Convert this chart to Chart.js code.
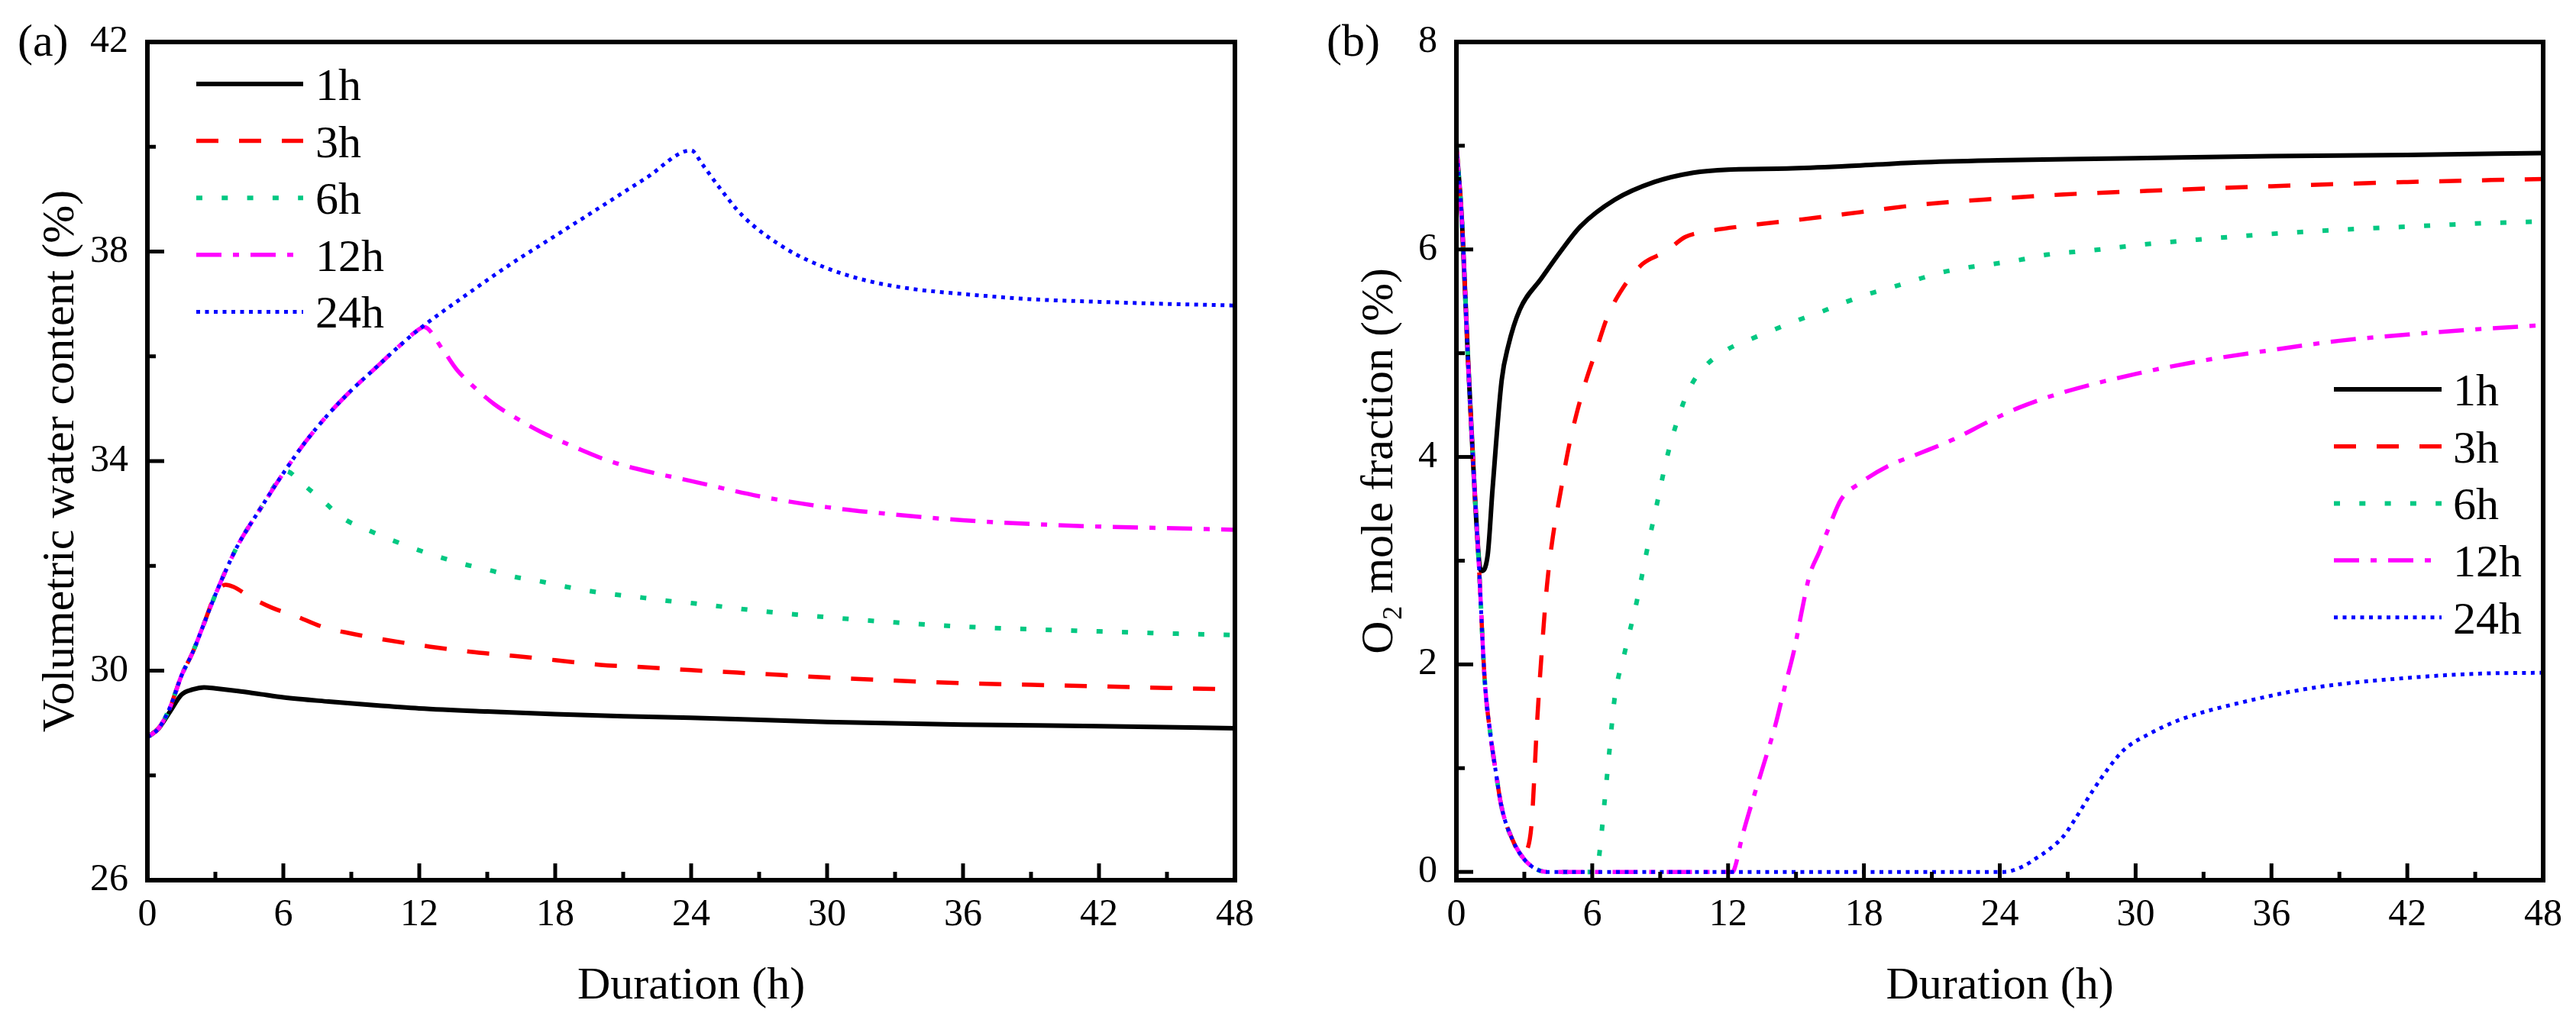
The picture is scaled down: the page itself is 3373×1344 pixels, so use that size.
<!DOCTYPE html>
<html><head><meta charset="utf-8">
<script src="https://cdn.jsdelivr.net/npm/chart.js@4.4.1/dist/chart.umd.min.js"></script>
<style>
html,body{margin:0;padding:0;background:#fff;}
#wrap{position:relative;width:3373px;height:1344px;background:#fff;}
canvas{position:absolute;top:0;}
</style>
</head><body>
<div id="wrap">
<canvas id="ca" width="1686" height="1344" style="left:0px"></canvas>
<canvas id="cb" width="1687" height="1344" style="left:1686px"></canvas>
</div>
<script>
// ---------- DATA ----------
const seriesNames = ['1h','3h','6h','12h','24h'];
const xTicksLabels = [0,6,12,18,24,30,36,42,48];
const aTicksLabels = [26,30,34,38,42];
const bTicksLabels = [0,2,4,6,8];

// Panel (a): volumetric water content (%)
const a1h_t  = [0,0.5,1,1.5,2,2.5,3,4,5,6,8,10,12,15,18,21,24,30,36,42,48];
const a1h_v  = [28.73,28.9,29.22,29.54,29.64,29.68,29.66,29.61,29.55,29.49,29.41,29.34,29.28,29.22,29.17,29.13,29.1,29.02,28.97,28.94,28.9];
const a3h_t  = [0,0.5,1,1.5,2,2.5,3,3.45,3.8,4.6,5.5,6.56,7.77,8.97,10.48,12.44,14.25,16.2,18,20,21.8,24,27,30,33,36,39,42,45,48];
const a3h_v  = [28.73,28.9,29.3,29.9,30.35,30.9,31.45,31.64,31.6,31.39,31.2,31.04,30.83,30.71,30.59,30.46,30.36,30.28,30.2,30.11,30.07,30.01,29.94,29.87,29.81,29.76,29.73,29.7,29.67,29.64];
const a6h_t  = [0,0.5,1,1.5,2,2.5,3,3.5,4,5,6,6.1,6.86,7.77,8.67,9.8,10.8,11.84,12.97,14,15.16,16.2,17.4,18.5,19.5,20.7,21.9,23,24,27,30,33,36,39,42,45,48];
const a6h_v  = [28.73,28.9,29.3,29.9,30.35,30.9,31.45,31.95,32.4,33.1,33.77,33.81,33.56,33.23,32.9,32.67,32.49,32.32,32.16,32.03,31.91,31.79,31.7,31.6,31.52,31.45,31.39,31.33,31.29,31.14,31.02,30.92,30.84,30.79,30.75,30.71,30.68];
const a12h_t = [0,0.5,1,1.5,2,2.5,3,3.5,4,5,6,7,8,9,10,11,12,12.2,13.05,13.65,14.4,15.3,16.2,17.4,18.9,20.4,22.1,24,27,30,33,36,39,42,45,48];
const a12h_v = [28.73,28.9,29.3,29.9,30.35,30.9,31.45,31.95,32.4,33.1,33.77,34.38,34.9,35.35,35.75,36.15,36.52,36.56,36.12,35.75,35.42,35.09,34.84,34.55,34.26,34.0,33.8,33.62,33.33,33.12,32.98,32.87,32.8,32.75,32.72,32.69];
const a24h_t = [0,0.5,1,1.5,2,2.5,3,3.5,4,5,6,7,8,9,10,11,12,14,16,18,20,22,24,24.5,25.25,26.3,28.2,30,31.8,33.7,36,39,42,45,48];
const a24h_v = [28.73,28.9,29.3,29.9,30.35,30.9,31.45,31.95,32.4,33.1,33.77,34.38,34.9,35.35,35.75,36.15,36.52,37.15,37.75,38.3,38.85,39.4,39.93,39.66,39.22,38.67,38.05,37.68,37.44,37.29,37.19,37.09,37.04,37.0,36.97];

// Panel (b): O2 mole fraction (%)
const b1h_t  = [0,0.25,0.5,0.75,1.0,1.1,1.38,1.6,2.0,2.29,2.8,3.75,4.6,5.47,7.0,8.74,10.46,12,14.6,17,20.4,23.9,27,30,36,42,48];
const b1h_v  = [7.0,6.25,5.0,3.9,3.0,2.9,3.05,3.7,4.74,5.07,5.42,5.72,5.98,6.22,6.48,6.65,6.74,6.77,6.78,6.8,6.84,6.86,6.87,6.88,6.9,6.91,6.93];
const b3h_t  = [0,0.25,0.5,0.75,1.0,1.25,1.5,1.75,2,2.5,2.89,3.1,3.32,3.45,3.54,3.75,4.0,4.26,4.6,4.95,5.3,5.73,6.16,6.67,7.36,8.22,9.25,10.1,10.97,12.86,15.27,17.85,20.4,23.9,26.8,30,36,42,48];
const b3h_v  = [7.0,6.25,5.0,3.9,2.93,1.85,1.33,0.95,0.62,0.3,0.16,0.2,0.46,0.95,1.35,2.06,2.76,3.23,3.66,4.08,4.41,4.74,5.02,5.35,5.63,5.86,5.98,6.12,6.17,6.23,6.29,6.36,6.43,6.49,6.53,6.56,6.61,6.65,6.68];
const b6h_t  = [0,0.25,0.5,0.75,1.0,1.25,1.5,1.75,2,2.5,3,3.5,4,6.2,6.33,6.55,6.76,6.98,7.45,7.96,8.39,8.87,9.34,9.99,10.42,11.06,12,13.04,14.07,15.1,16.13,17.16,18.19,19.31,20.34,21.46,22.67,23.7,24.9,26.1,28,30,33,36,39,42,45,48];
const b6h_v  = [7.0,6.25,5.0,3.9,2.93,1.85,1.33,0.95,0.62,0.3,0.12,0.03,0,0,0.2,0.69,1.17,1.66,2.13,2.6,3.07,3.56,4.03,4.5,4.71,4.89,5.04,5.14,5.23,5.32,5.4,5.49,5.57,5.64,5.71,5.78,5.83,5.86,5.9,5.95,5.99,6.04,6.1,6.15,6.19,6.22,6.25,6.27];
const b12h_t = [0,0.25,0.5,0.75,1.0,1.25,1.5,1.75,2,2.5,3,3.5,4,12.2,12.35,12.6,13.03,13.55,14.07,14.5,14.93,15.27,15.6,16.04,16.47,16.99,17.85,19.05,20.4,21.96,23.5,24.9,26.76,30,33,36,39,42,45,48];
const b12h_v = [7.0,6.25,5.0,3.9,2.93,1.85,1.33,0.95,0.62,0.3,0.12,0.03,0,0,0.08,0.32,0.65,1.02,1.4,1.78,2.15,2.53,2.86,3.09,3.33,3.59,3.75,3.91,4.03,4.17,4.34,4.48,4.62,4.8,4.93,5.03,5.12,5.18,5.23,5.27];
const b24h_t = [0,0.25,0.5,0.75,1.0,1.25,1.5,1.75,2,2.5,3,3.5,4,24.2,25,25.6,26.2,26.8,27.3,28.1,28.8,29.5,30.6,32,35,38,42,45,48];
const b24h_v = [7.0,6.25,5.0,3.9,2.93,1.85,1.33,0.95,0.62,0.3,0.12,0.03,0,0,0.05,0.13,0.22,0.34,0.5,0.78,1.0,1.18,1.33,1.47,1.65,1.78,1.87,1.91,1.92];

// ---------- STYLES ----------
const FONT = "'Liberation Serif','Times New Roman',serif";
const styles = [
  {color:'#000000', dash:[],            width:6},
  {color:'#FF0000', dash:[29,27],       width:5.5},
  {color:'#00C882', dash:[8,25.3],      width:6},
  {color:'#FF00FF', dash:[33,15,8,15],  width:5.5},
  {color:'#0000FF', dash:[5,6.5],       width:5}
];

function pts(t, v){ return t.map((x,i)=>({x:x, y:v[i]})); }
function makeDatasets(series){
  return series.map((s,i)=>({
    label: seriesNames[i],
    data: pts(s[0], s[1]),
    borderColor: styles[i].color,
    backgroundColor: styles[i].color,
    borderDash: styles[i].dash,
    borderWidth: styles[i].width,
    pointRadius: 0,
    fill: false,
    cubicInterpolationMode: 'monotone',
    borderCapStyle: 'butt',
    borderJoinStyle: 'round',
    order: series.length - 1 - i
  }));
}

// frame + inward ticks
const framePlugin = {
  id: 'frame',
  afterDatasetsDraw(chart, args, o){
    const {ctx, chartArea:ca, scales} = chart;
    ctx.save();
    ctx.setLineDash([]);
    ctx.strokeStyle = '#000';
    ctx.lineCap = 'butt';
    ctx.lineWidth = 5;
    const xs = scales.x, ys = scales.y;
    for (let v = o.xStart; v <= xs.max + 1e-9; v += o.xMinor){
      const px = xs.getPixelForValue(v);
      const major = Math.abs((v - o.xStart) / o.xMajor - Math.round((v - o.xStart) / o.xMajor)) < 1e-6;
      const len = major ? 22 : 11;
      ctx.beginPath(); ctx.moveTo(px, ca.bottom); ctx.lineTo(px, ca.bottom - len); ctx.stroke();
    }
    for (let v = o.yStart; v <= ys.max + 1e-9; v += o.yMinor){
      const py = ys.getPixelForValue(v);
      const major = Math.abs((v - o.yStart) / o.yMajor - Math.round((v - o.yStart) / o.yMajor)) < 1e-6;
      const len = major ? 22 : 11;
      ctx.beginPath(); ctx.moveTo(ca.left, py); ctx.lineTo(ca.left + len, py); ctx.stroke();
    }
    ctx.lineWidth = 6;
    ctx.lineJoin = 'miter';
    ctx.strokeRect(ca.left, ca.top, ca.right - ca.left, ca.bottom - ca.top);
    ctx.restore();
  }
};

// legend with line samples + panel letter
const legendPlugin = {
  id: 'lineLegend',
  afterDraw(chart, args, o){
    const ctx = chart.ctx;
    ctx.save();
    chart.data.datasets.forEach((ds, i) => {
      const y = o.y0 + i * o.dy;
      ctx.beginPath();
      ctx.setLineDash(ds.borderDash);
      ctx.lineDashOffset = 0;
      ctx.lineWidth = ds.borderWidth;
      ctx.strokeStyle = ds.borderColor;
      ctx.lineCap = 'butt';
      ctx.moveTo(o.x0, y); ctx.lineTo(o.x1, y); ctx.stroke();
      ctx.setLineDash([]);
      ctx.fillStyle = '#000';
      ctx.font = '60px ' + FONT;
      ctx.textAlign = 'left';
      ctx.textBaseline = 'alphabetic';
      ctx.fillText(ds.label, o.tx, y + 21);
    });
    ctx.font = '60px ' + FONT;
    ctx.fillStyle = '#000';
    ctx.textAlign = 'left';
    ctx.textBaseline = 'alphabetic';
    ctx.fillText(o.panel, o.px, 73);
    ctx.restore();
  }
};

function makeChart(id, series, cfg){
  return new Chart(document.getElementById(id), {
    type: 'line',
    data: { datasets: makeDatasets(series) },
    plugins: [framePlugin, legendPlugin],
    options: {
      responsive: false,
      animation: false,
      devicePixelRatio: 1,
      layout: { padding: { left: 0, top: 45, right: cfg.padRight, bottom: 0 } },
      plugins: {
        legend: { display: false },
        tooltip: { enabled: false },
        frame: { xStart: 0, xMajor: 6, xMinor: 3, yStart: cfg.yTicks[0], yMajor: cfg.yStep, yMinor: cfg.yStep / 2 },
        lineLegend: cfg.legend
      },
      scales: {
        x: {
          type: 'linear', min: 0, max: 48,
          afterBuildTicks(s){ s.ticks = xTicksLabels.map(v => ({value: v})); },
          ticks: { font: {family: FONT, size: 50}, color: '#000', padding: 16, maxRotation: 0, autoSkip: false },
          grid: { display: false, drawTicks: false },
          border: { display: false },
          title: { display: true, text: 'Duration (h)', color: '#000', font: {family: FONT, size: 60}, padding: {top: 0, bottom: 16} },
          afterFit(s){ s.height = 191; }
        },
        y: {
          type: 'linear', min: cfg.yMin, max: cfg.yMax,
          afterBuildTicks(s){ s.ticks = cfg.yTicks.map(v => ({value: v})); },
          ticks: { font: {family: FONT, size: 50}, color: '#000', padding: 25, autoSkip: false },
          grid: { display: false, drawTicks: false },
          border: { display: false },
          title: { display: true, text: cfg.yTitle, color: '#000', font: {family: FONT, size: 60}, padding: {top: cfg.yTitlePad, bottom: 0} },
          afterFit(s){ s.width = cfg.yWidth; }
        }
      }
    }
  });
}

makeChart('ca',
  [[a1h_t,a1h_v],[a3h_t,a3h_v],[a6h_t,a6h_v],[a12h_t,a12h_v],[a24h_t,a24h_v]],
  { yMin: 26, yMax: 42, yStep: 4, yTicks: aTicksLabels, yTitle: 'Volumetric water content (%)', yTitlePad: 44, yWidth: 193, padRight: 69,
    legend: { x0: 257, x1: 397, tx: 413, y0: 110, dy: 74.6, panel: '(a)', px: 23 } });

makeChart('cb',
  [[b1h_t,b1h_v],[b3h_t,b3h_v],[b6h_t,b6h_v],[b12h_t,b12h_v],[b24h_t,b24h_v]],
  { yMin: -0.08, yMax: 8, yStep: 2, yTicks: bTicksLabels, yTitle: 'O\u2082 mole fraction (%)', yTitlePad: 85, yWidth: 221, padRight: 43,
    legend: { x0: 1370, x1: 1511, tx: 1526, y0: 510, dy: 74.7, panel: '(b)', px: 51 } });
</script>
</body></html>
